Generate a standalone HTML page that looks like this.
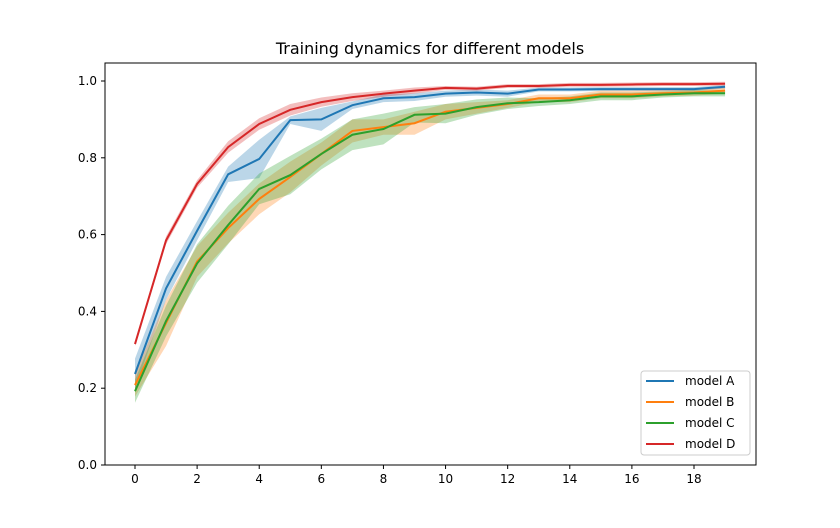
<!DOCTYPE html>
<html><head><meta charset="utf-8"><style>
body{margin:0;background:#fff;font-family:"Liberation Sans","DejaVu Sans",sans-serif}
</style></head><body>
<svg id="chart" width="840" height="523" xmlns="http://www.w3.org/2000/svg" font-family="DejaVu Sans, Liberation Sans, sans-serif">
<rect width="840" height="523" fill="#fff"/>
<text x="430" y="54" text-anchor="middle" font-size="16">Training dynamics for different models</text>
<g id="bands"></g><g id="lines"></g><g id="axes"></g><g id="legend"></g>
</svg>
<script>
const xs = [0,1,2,3,4,5,6,7,8,9,10,11,12,13,14,15,16,17,18,19];
const seriesNames = ["model A","model B","model C","model D"];
const colors = ["#1f77b4","#ff7f0e","#2ca02c","#d62728"];
const modelA = [0.237,0.46,0.61,0.757,0.797,0.898,0.90,0.937,0.955,0.958,0.967,0.97,0.967,0.978,0.978,0.979,0.979,0.979,0.979,0.985];
const modelB = [0.208,0.37,0.53,0.617,0.693,0.75,0.81,0.87,0.88,0.89,0.92,0.93,0.94,0.955,0.955,0.965,0.965,0.968,0.97,0.975];
const modelC = [0.192,0.375,0.525,0.625,0.719,0.755,0.81,0.86,0.875,0.912,0.915,0.932,0.942,0.945,0.95,0.96,0.96,0.965,0.968,0.968];
const modelD = [0.315,0.585,0.732,0.828,0.888,0.925,0.945,0.958,0.967,0.975,0.982,0.98,0.987,0.987,0.99,0.99,0.991,0.992,0.992,0.993];
const errA = [0.04,0.03,0.025,0.02,0.05,0.01,0.03,0.01,0.01,0.01,0.008,0.008,0.008,0.005,0.005,0.005,0.005,0.005,0.005,0.005];
const errB = [0.03,0.06,0.04,0.04,0.04,0.04,0.03,0.03,0.02,0.03,0.02,0.015,0.01,0.01,0.01,0.01,0.01,0.008,0.008,0.008];
const errC = [0.03,0.04,0.05,0.05,0.04,0.05,0.04,0.04,0.04,0.02,0.025,0.02,0.015,0.01,0.01,0.01,0.01,0.008,0.008,0.008];
const errD = [0.005,0.01,0.01,0.015,0.015,0.015,0.012,0.01,0.008,0.008,0.005,0.005,0.005,0.005,0.005,0.005,0.005,0.005,0.005,0.005];
const xTicks = [0,2,4,6,8,10,12,14,16,18];
const yTicks = [0.0,0.2,0.4,0.6,0.8,1.0];
const series=[modelA,modelB,modelC,modelD], errs=[errA,errB,errC,errD];
const L=105,R=756,T=63,B=465;
const xs0=135, xunit=(694-135)/18;
const X=v=>xs0+v*xunit, Y=v=>465-v*384;
const NS="http://www.w3.org/2000/svg";
function mk(tag,attrs,parent){const e=document.createElementNS(NS,tag);for(const k in attrs)e.setAttribute(k,attrs[k]);parent.appendChild(e);return e;}
const gb=document.getElementById('bands'),gl=document.getElementById('lines'),ga=document.getElementById('axes'),gg=document.getElementById('legend');
series.forEach((s,i)=>{
  const up=s.map((v,j)=>X(xs[j])+','+Y(v+errs[i][j]));
  const dn=s.map((v,j)=>X(xs[j])+','+Y(v-errs[i][j])).reverse();
  const p=mk('polygon',{points:up.concat(dn).join(' '),fill:colors[i],'fill-opacity':0.3},gb);
  
  
});
series.forEach((s,i)=>{
  const l=mk('polyline',{points:s.map((v,j)=>X(xs[j])+','+Y(v)).join(' '),fill:'none',stroke:colors[i],'stroke-width':2},gl);
  
  
});
const frame=mk('rect',{x:L,y:T,width:R-L,height:B-T,fill:'none',stroke:'#000','stroke-width':1},ga);


xTicks.forEach(t=>{
  mk('line',{x1:X(t),x2:X(t),y1:B,y2:B+4,stroke:'#000'},ga);
  const tx=mk('text',{x:X(t),y:B+18,'text-anchor':'middle','font-size':12},ga);tx.textContent=t;
  
  
});
yTicks.forEach(t=>{
  mk('line',{x1:L-4,x2:L,y1:Y(t),y2:Y(t),stroke:'#000'},ga);
  const tx=mk('text',{x:L-8,y:Y(t)+4,'text-anchor':'end','font-size':12},ga);tx.textContent=t.toFixed(1);
  
  
});
const lb=mk('rect',{x:641,y:371,width:109,height:84,rx:3,fill:'#fff','fill-opacity':0.8,stroke:'#ccc'},gg);


seriesNames.forEach((n,i)=>{
  const y=381+i*21;
  mk('line',{x1:646,x2:674,y1:y,y2:y,stroke:colors[i],'stroke-width':2},gg);
  const tx=mk('text',{x:685,y:y+4,'font-size':12},gg);tx.textContent=n;
  
  
});
</script>
</body></html>
